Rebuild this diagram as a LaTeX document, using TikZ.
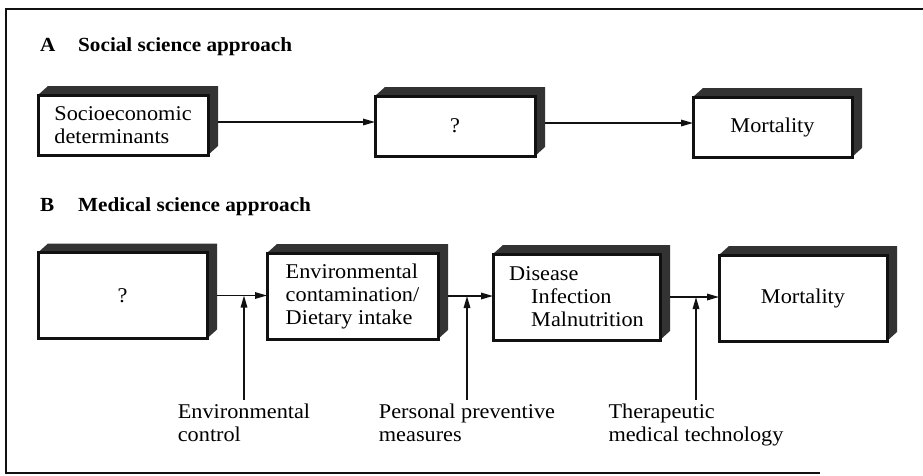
\documentclass[tikz,border=0pt]{standalone}
\usepackage{fontspec}
\setmainfont{Liberation Serif}[FakeStretch=1.06]
\usepackage{xcolor}
\usepackage{tikz}
\usetikzlibrary{arrows.meta,backgrounds}
\definecolor{FigInk}{HTML}{111111}
\definecolor{FigShade}{HTML}{333333}
\tikzset{
  front/.style={draw=FigInk,line width=3pt,fill=white,outer sep=0pt,inner sep=0pt,align=left},
  flow/.style={draw=FigInk,line width=1.6pt,-{Triangle[length=12pt,width=6.5pt]}},
  head/.style={anchor=base west,inner sep=0pt,font=\fontsize{20}{23}\selectfont\bfseries},
  foot/.style={anchor=north,align=left,inner sep=0pt},
}
\newcommand{\boxshade}[1]{%
  \fill[FigShade] (#1.north west) -- ++(10,-9) -- ([shift={(10,-9)}]#1.north east)
    -- ([shift={(10,-9)}]#1.south east) -- (#1.south east) -- (#1.north east) -- cycle;}

\begin{document}
\begin{tikzpicture}[x=1pt,y=-1pt,font=\fontsize{21}{23}\selectfont]
\path[use as bounding box] (0,0) rectangle (923,475);
\draw[FigInk,line width=1.8pt] (923,9) -- (6,9) -- (6,473) -- (820,473);
\node[head] (labA) at (40,51) {A};
\node[head] (titA) at (78,51) {Social science approach};
\node[front,minimum width=170pt,minimum height=60pt] (socio) at (123,125) {Socioeconomic\\determinants};
\node[front,minimum width=160pt,minimum height=60pt] (qa) at (455,126) {?};
\node[front,minimum width=159pt,minimum height=60pt] (morta) at (772.5,127) {Mortality};
\draw[flow] ([xshift=10pt,yshift=3pt]socio.east) -- ([yshift=3pt]socio.east -| qa.west);
\draw[flow] ([xshift=10pt,yshift=3pt]qa.east) -- ([yshift=3pt]qa.east -| morta.west);
\node[head] (labB) at (40,211) {B};
\node[head] (titB) at (78,211) {Medical science approach};
\node[front,minimum width=169pt,minimum height=86pt] (qb) at (122.5,295.5) {?};
\node[front,minimum width=171pt,minimum height=86pt] (envbox) at (352.5,296) {Environmental\\contamination/\\Dietary intake};
\node[front,minimum width=167pt,minimum height=86pt] (disbox) at (576.5,297) {Disease\\\hspace*{22pt}Infection\\\hspace*{22pt}Malnutrition};
\node[front,minimum width=168pt,minimum height=86pt] (mortb) at (803,298) {Mortality};
\begin{pgfonlayer}{background}
\foreach \b in {socio,qa,morta,qb,envbox,disbox,mortb}
  \boxshade{\b};
\end{pgfonlayer}
\draw[flow] ([xshift=10pt]qb.east) -- (qb.east -| envbox.west);
\draw[flow] ([xshift=10pt]envbox.east) -- (envbox.east -| disbox.west);
\draw[flow] ([xshift=10pt]disbox.east) -- (disbox.east -| mortb.west);
\node[foot] (envctl) at (244,404) {Environmental\\control};
\node[foot] (perprev) at (467,404) {Personal preventive\\measures};
\node[foot] (thermed) at (696,404) {Therapeutic\\medical technology};
\draw[flow] ([yshift=4pt]envctl.north) -- (envctl.north |- qb.east);
\draw[flow] ([yshift=4pt]perprev.north) -- (perprev.north |- envbox.east);
\draw[flow] ([yshift=4pt]thermed.north) -- (thermed.north |- disbox.east);
\end{tikzpicture}
\end{document}
